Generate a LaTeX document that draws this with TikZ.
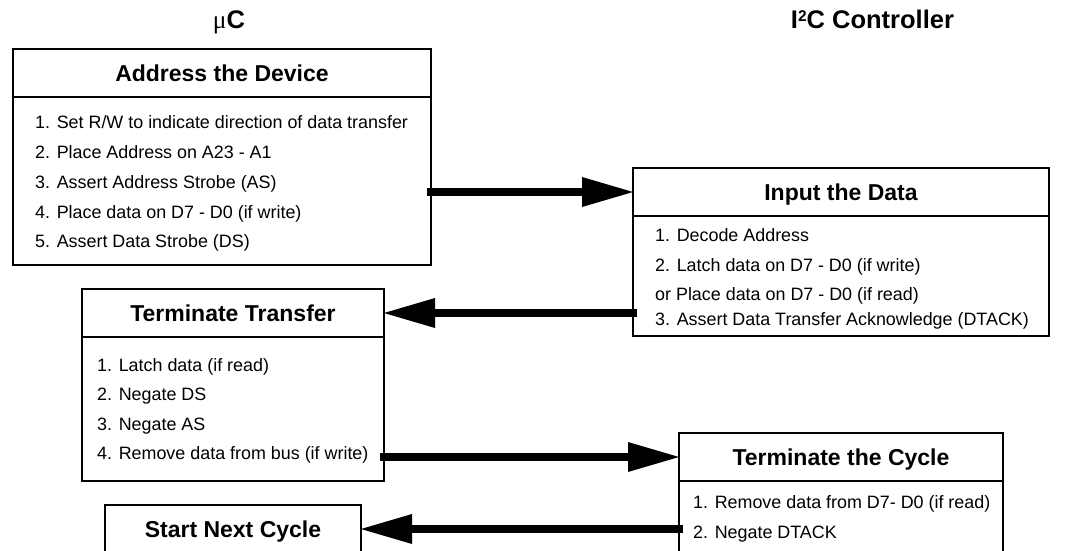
\documentclass[tikz,border=0pt]{standalone}
\usepackage{fontspec}
\setmainfont{Liberation Sans}
\newfontfamily\symfont{Liberation Serif}
\usetikzlibrary{arrows.meta}
\begin{document}
\begin{tikzpicture}[x=1pt,y=-1pt,
  boxline/.style={draw, line width=2.2pt, inner sep=0pt, outer sep=0pt},
  hdr/.style={boxline, font=\fontsize{23}{26}\selectfont\bfseries, text height=16.5pt, text depth=0pt, minimum height=48pt, anchor=north west},
  bodybox/.style={boxline, minimum height=#1, anchor=north west},
  item/.style={anchor=base west, inner sep=0pt, font=\fontsize{17.9}{21}\selectfont},
  title/.style={font=\fontsize{25.5}{28}\selectfont\bfseries, inner sep=0pt, text height=18pt, text depth=0pt},
  flow/.style={line width=8pt, -{Triangle[length=51pt,width=30pt,line width=0pt]}}
]
\useasboundingbox (0,0) rectangle (1072,551);
\clip (0,0) rectangle (1072,551);

% titles
\node[title] (muc) at (229,20) {{\symfont\mdseries μ}C};
\node[title] (i2c) at (872.5,20) {I\raisebox{7pt}{\fontsize{15.5}{15.5}\selectfont 2}C Controller};

% Address the Device
\node[hdr, minimum width=418pt] (addrH) at (13,49) {Address the Device};
\node[bodybox=168pt, minimum width=418pt] (addr) at (addrH.south west) {};
\node[item] (a1) at (35,128.5) {1. Set R/W to indicate direction of data transfer};
\node[item] (a2) at (35,158.5) {2. Place Address on A23 - A1};
\node[item] (a3) at (35,188.5) {3. Assert Address Strobe (AS)};
\node[item] (a4) at (35,218.5) {4. Place data on D7 - D0 (if write)};
\node[item] (a5) at (35,247.5) {5. Assert Data Strobe (DS)};

% Input the Data
\node[hdr, minimum width=416pt] (inpH) at (633,168) {Input the Data};
\node[bodybox=120pt, minimum width=416pt] (inp) at (inpH.south west) {};
\node[item] (i1) at (655,241.5) {1. Decode Address};
\node[item] (i2) at (655,271.5) {2. Latch data on D7 - D0 (if write)};
\node[item] (i3) at (655,300.5) {or Place data on D7 - D0 (if read)};
\node[item] (i4) at (655,325.5) {3. Assert Data Transfer Acknowledge (DTACK)};

% Terminate Transfer
\node[hdr, minimum width=302pt] (ttH) at (82,289) {Terminate Transfer};
\node[bodybox=144pt, minimum width=302pt] (tt) at (ttH.south west) {};
\node[item] (t1) at (97,371.5) {1. Latch data (if read)};
\node[item] (t2) at (97,400.5) {2. Negate DS};
\node[item] (t3) at (97,430.5) {3. Negate AS};
\node[item] (t4) at (97,459.5) {4. Remove data from bus (if write)};

% Terminate the Cycle
\node[hdr, minimum width=324pt] (tcH) at (679,433) {Terminate the Cycle};
\node[bodybox=120pt, minimum width=324pt] (tc) at (tcH.south west) {};
\node[item] (c1) at (693,508.5) {1. Remove data from D7- D0 (if read)};
\node[item] (c2) at (693,538.5) {2. Negate DTACK};

% Start Next Cycle
\node[hdr, minimum width=256pt] (sncH) at (105,505) {Start Next Cycle};
\node[bodybox=100pt, minimum width=256pt] (snc) at (sncH.south west) {};

% connectors
\draw[flow] ([xshift=-4pt]addr.east |- inpH.west) -- (inpH.west);
\draw[flow] ([xshift=4pt]inp.west |- ttH.east) -- (ttH.east);
\draw[flow] ([xshift=-4pt]tt.east |- tcH.west) -- (tcH.west);
\draw[flow] ([xshift=4pt]tc.west |- sncH.east) -- (sncH.east);
\end{tikzpicture}
\end{document}
